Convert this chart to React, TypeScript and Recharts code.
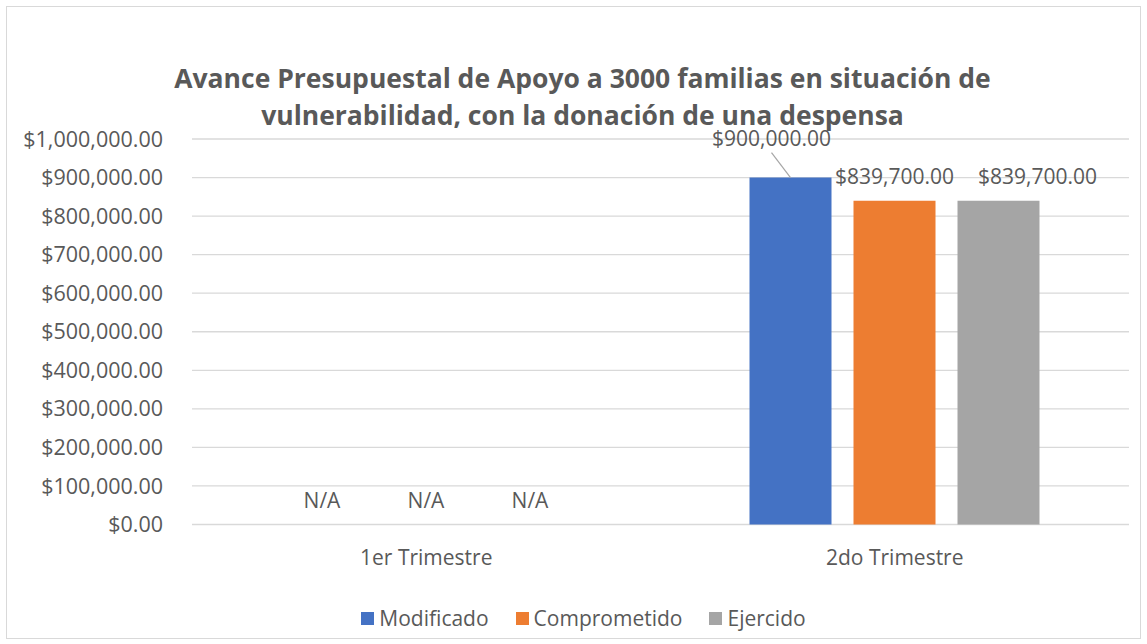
import { Bar, BarChart, CartesianGrid, LabelList, Legend, Rectangle, XAxis, YAxis } from "recharts";

const categories = ["1er Trimestre", "2do Trimestre"];
// 0 in the 1er Trimestre = no data in the source, labelled N/A
const modificado = [0, 900000];
const comprometido = [0, 839700];
const ejercido = [0, 839700];
const yTicks = [0, 100000, 200000, 300000, 400000, 500000, 600000, 700000, 800000, 900000, 1000000];

const SERIES = [
  { key: "modificado", name: "Modificado", color: "#4472C4", values: modificado },
  { key: "comprometido", name: "Comprometido", color: "#ED7D31", values: comprometido },
  { key: "ejercido", name: "Ejercido", color: "#A5A5A5", values: ejercido },
];

const FONT = "'Open Sans', sans-serif";
const TEXT = "#595959";

const money = (v: number) =>
  "$" + v.toLocaleString("en-US", { minimumFractionDigits: 2, maximumFractionDigits: 2 });

const data = categories.map((cat, i) => {
  const row: Record<string, number | string> = { cat };
  for (const s of SERIES) row[s.key] = s.values[i];
  return row;
});

// hide the zero bars (kept at 1px only so their N/A label still gets a position)
const BarShape = (props: any) => {
  if (!props.value) return null;
  return <Rectangle {...props} />;
};

// labels that were dragged in the original chart
const MOVED: Record<string, { dx: number; dy: number; leader: boolean }> = {
  modificado: { dx: -19, dy: -40, leader: true },
  ejercido: { dx: 39, dy: -25, leader: false },
};

function makeLabel(key: string) {
  return (props: any) => {
    const { x, y, width, height, value } = props;
    const v = Number(value);
    const text = !v ? "N/A" : money(v);
    const cx = Number(x) + Number(width) / 2;
    const top = !v ? Number(y) + Number(height) : Number(y);
    const m = v ? MOVED[key] : undefined;
    const dx = m ? m.dx : 0;
    const dy = m ? m.dy : -25;
    return (
      <g>
        {m && m.leader && (
          <line x1={cx + dx} y1={top + dy + 15} x2={cx} y2={top} stroke="#A6A6A6" strokeWidth={1.2} />
        )}
        <text x={cx + dx} y={top + dy} textAnchor="middle" dominantBaseline="central"
          fontSize={21} fill={TEXT} fontFamily={FONT}>{text}</text>
      </g>
    );
  };
}

function LegendContent() {
  return (
    <div style={{ display: "flex", justifyContent: "center", gap: 27, fontFamily: FONT, fontSize: 21,
      lineHeight: "22px", color: TEXT }}>
      {SERIES.map((s) => (
        <div key={s.key} style={{ display: "flex", alignItems: "center" }}>
          <span style={{ width: 13, height: 13, background: s.color, marginRight: 5, display: "inline-block" }} />
          <span>{s.name}</span>
        </div>
      ))}
    </div>
  );
}

export default function App() {
  return (
    <div style={{ position: "absolute", left: 0, top: 0, width: 1147, height: 644, overflow: "hidden", background: "#fff" }}>
      <div style={{ position: "absolute", left: 6, top: 6, width: 1133, height: 631, border: "1.5px solid #D9D9D9" }} />
      <div style={{ position: "absolute", left: 0, top: 64, width: 1147, paddingLeft: 18, boxSizing: "border-box",
        textAlign: "center", fontFamily: FONT, fontWeight: 700, fontSize: 26.5, lineHeight: "28px", color: TEXT }}>
        <div style={{ marginBottom: 9 }}>Avance Presupuestal de Apoyo a 3000 familias en situación de</div>
        <div>vulnerabilidad, con la donación de una despensa</div>
      </div>
      <BarChart width={1147} height={644} data={data}
        margin={{ top: 139, right: 18, left: 7, bottom: 59.5 }}
        barCategoryGap={89} barGap={22} style={{ position: "absolute", left: 0, top: 0 }}>
        <CartesianGrid vertical={false} stroke="#D9D9D9" strokeWidth={1.3} />
        <XAxis dataKey="cat" height={60} axisLine={false} tickLine={false} tickSize={0} tickMargin={26}
          tick={{ fontSize: 21, fill: TEXT, fontFamily: FONT }} />
        <YAxis width={185} domain={[0, 1000000]} ticks={yTicks} axisLine={false} tickLine={false}
          tickSize={0} tickMargin={29} tickFormatter={money} interval={0}
          tick={{ fontSize: 21.5, fill: TEXT, fontFamily: FONT }} />
        <Legend verticalAlign="middle" align="center" content={<LegendContent />}
          wrapperStyle={{ top: 607, left: 10, width: 1147 }} />
        {SERIES.map((s) => (
          <Bar key={s.key} dataKey={s.key} name={s.name} fill={s.color} minPointSize={1}
            shape={BarShape} isAnimationActive={false}>
            <LabelList dataKey={s.key} content={makeLabel(s.key)} />
          </Bar>
        ))}
      </BarChart>
    </div>
  );
}
